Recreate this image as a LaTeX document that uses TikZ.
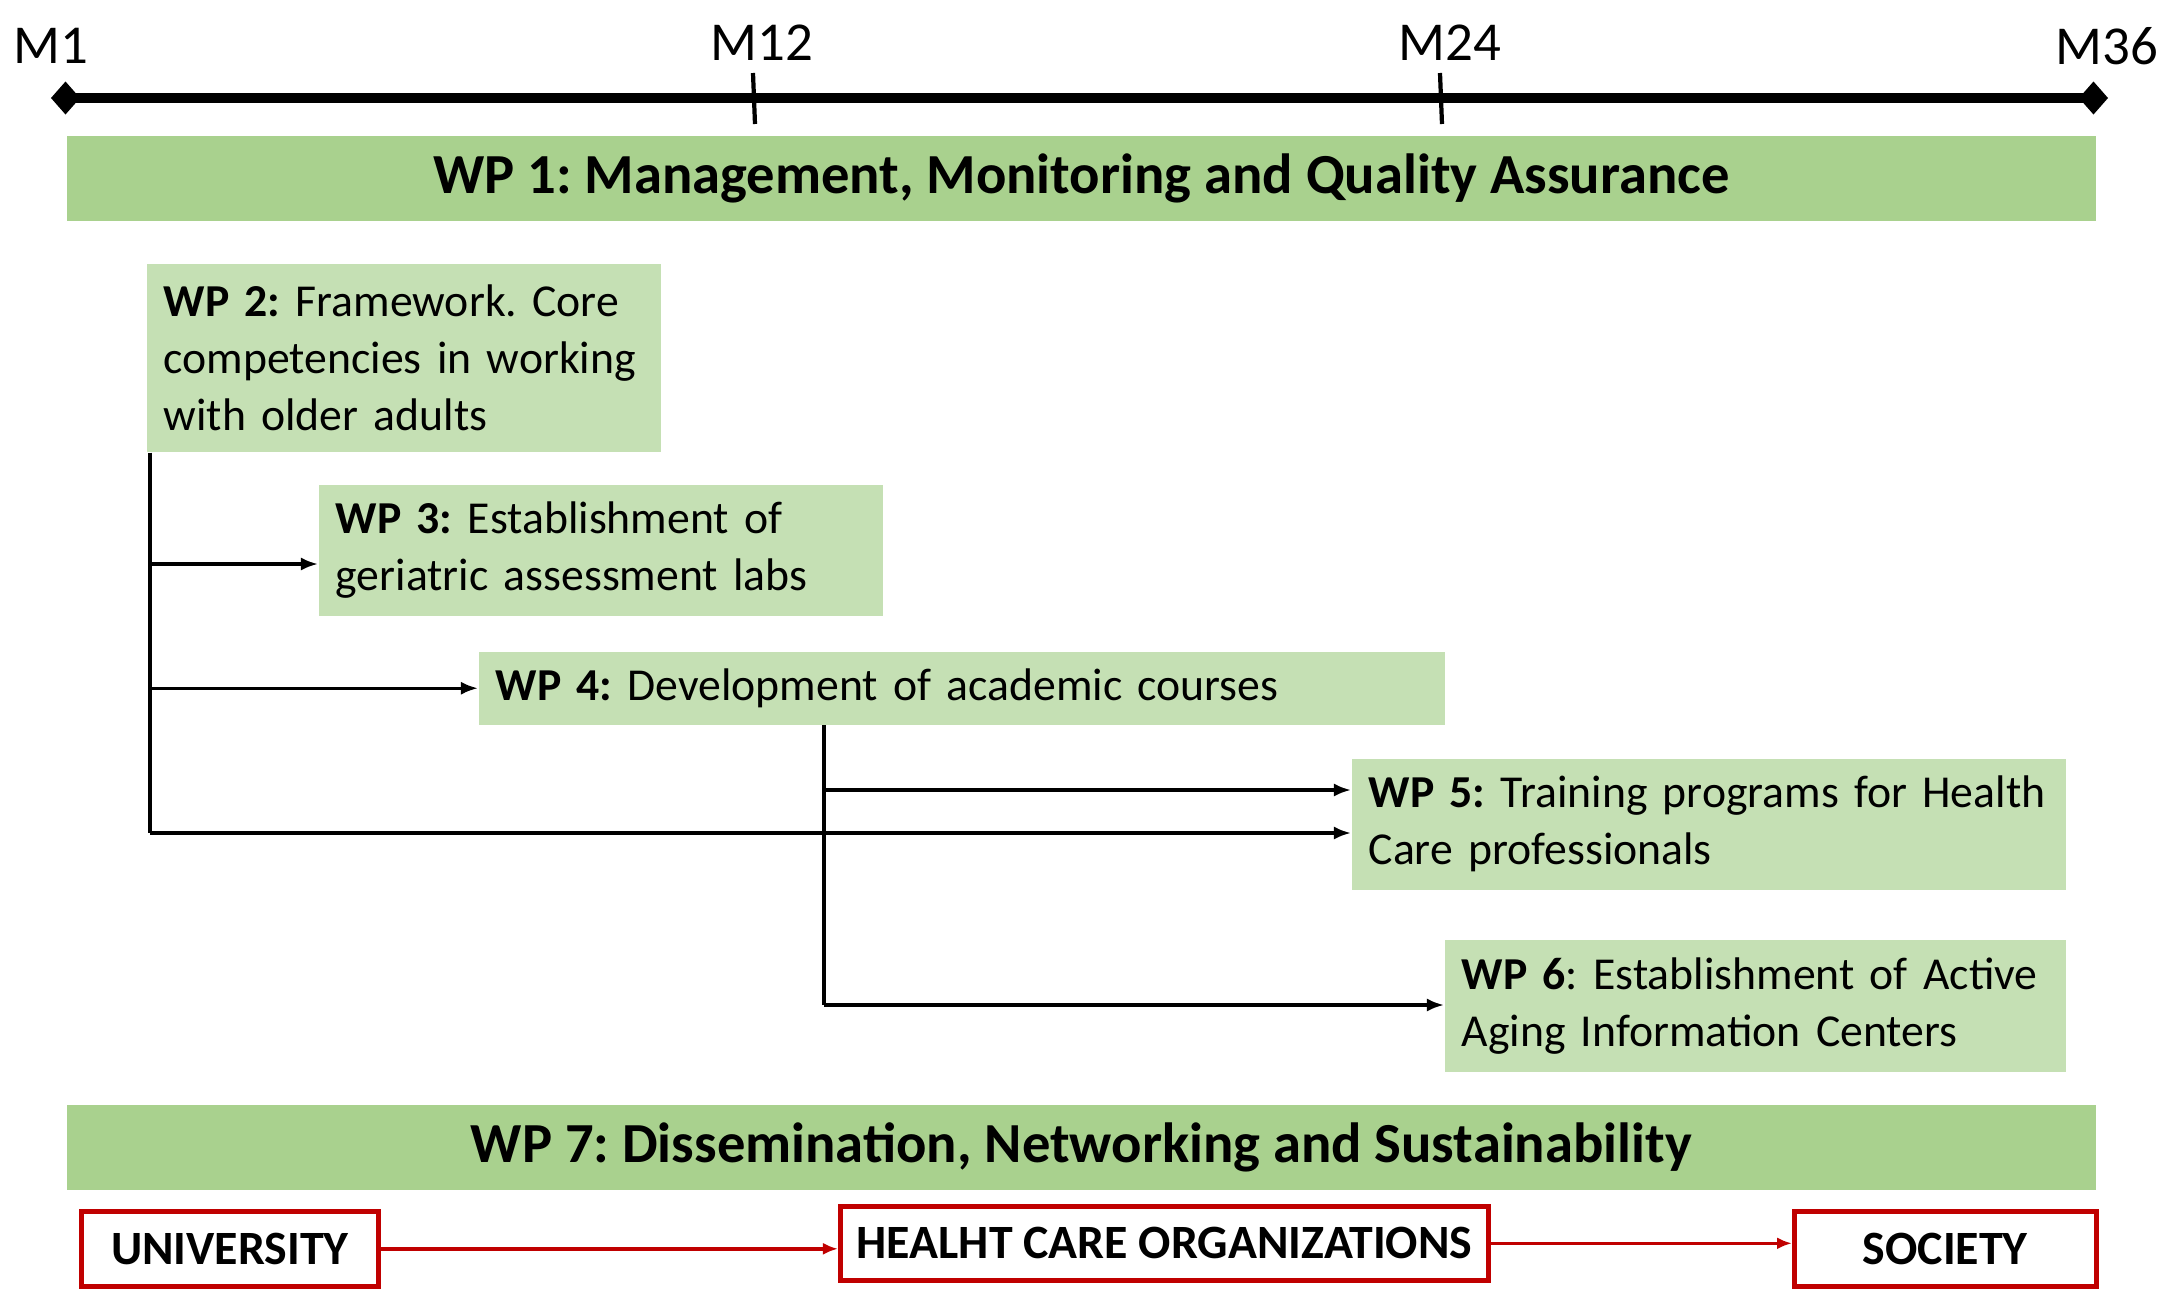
\documentclass[tikz,border=0pt]{standalone}
\usepackage{fontspec}
\setmainfont{Carlito}
\frenchspacing
\usetikzlibrary{arrows.meta}

\definecolor{bargreen}{HTML}{A9D18E}
\definecolor{boxgreen}{HTML}{C5E0B4}
\definecolor{darkred}{HTML}{C00000}

\tikzset{
  bar/.style={fill=bargreen, anchor=north west, inner sep=0pt,
    minimum width=20.28cm, minimum height=0.85cm,
    font=\fontsize{16.1}{19}\selectfont\bfseries},
  wpbox/.style={fill=boxgreen, anchor=north west, inner xsep=0.17cm, inner ysep=0pt,
    align=left, font=\fontsize{13}{16.2}\selectfont},
  actor/.style={draw=darkred, line width=1.3pt, fill=white, anchor=north west,
    inner sep=0pt, font=\fontsize{13.6}{15}\selectfont\bfseries},
  month/.style={font=\fontsize{15.6}{18}\selectfont},
  link/.style={line width=0.9pt, -{Latex[length=0.17cm,width=0.13cm]}},
  trunk/.style={line width=1.3pt},
  flow/.style={draw=darkred, line width=1pt, -{Latex[length=0.15cm,width=0.12cm]}}
}

\begin{document}
\begin{tikzpicture}[x=0.01cm, y=-0.01cm]
\useasboundingbox (0,0) rectangle (2162,1290);

\coordinate (start) at (51,98);
\coordinate (end) at (2108,98);
\draw[line width=2.6pt, {Diamond[length=0.29cm,width=0.33cm]}-{Diamond[length=0.29cm,width=0.33cm]}] (start) -- (end);
\draw[line width=1.2pt] (753,73) -- (755,124);
\draw[line width=1.2pt] (1440,73) -- (1442,124);
\node[month] (m1) at (51,46) {M1};
\node[month] (m12) at (762,43) {M12};
\node[month] (m24) at (1450,43) {M24};
\node[month] (m36) at (2107,46) {M36};

\node[bar] (wp1) at (66,135) {WP 1: Management, Monitoring and Quality Assurance};

\node[wpbox, text width=4.80cm, minimum height=1.88cm] (wp2) at (146,263)
  {\textbf{WP 2:} Framework. Core\\competencies in working\\with older adults};
\node[wpbox, text width=5.30cm, minimum height=1.31cm] (wp3) at (318,484)
  {\textbf{WP 3:} Establishment of\\geriatric assessment labs};
\node[wpbox, text width=9.32cm, minimum height=0.73cm] (wp4) at (478,651)
  {\textbf{WP 4:} Development of academic courses};
\node[wpbox, text width=6.80cm, minimum height=1.31cm] (wp5) at (1351,758)
  {\textbf{WP 5:} Training programs for Health\\Care professionals};
\node[wpbox, text width=5.87cm, minimum height=1.32cm] (wp6) at (1444,939)
  {\textbf{WP 6}: Establishment of Active\\Aging Information Centers};

\node[bar] (wp7) at (66,1104) {WP 7: Dissemination, Networking and Sustainability};

\node[actor, minimum width=2.97cm, minimum height=0.75cm] (univ) at (79,1209) {UNIVERSITY};
\node[actor, minimum width=6.48cm, minimum height=0.74cm] (hco) at (838,1204) {HEALHT CARE ORGANIZATIONS};
\node[actor, minimum width=3.02cm, minimum height=0.75cm] (soc) at (1792,1209) {SOCIETY};

\coordinate (t2) at (150,833);
\coordinate (b3) at (150,564);
\coordinate (t4) at (824,1005);
\coordinate (b5) at (824,790);

\draw[trunk] (wp2.south -| t2) -- (t2);
\draw[link] (b3) -- (b3 -| wp3.west);
\draw[link] (t2 |- wp4.west) -- (wp4.west);
\draw[link] (t2) -- (t2 -| wp5.west);
\draw[line width=1pt] (wp4.south -| t4) -- (t4);
\draw[link] (b5) -- (b5 -| wp5.west);
\draw[link] (t4) -- (t4 -| wp6.west);

\draw[flow] (univ.east) -- (univ.east -| hco.west);
\draw[flow] (hco.east) -- (hco.east -| soc.west);
\end{tikzpicture}
\end{document}
